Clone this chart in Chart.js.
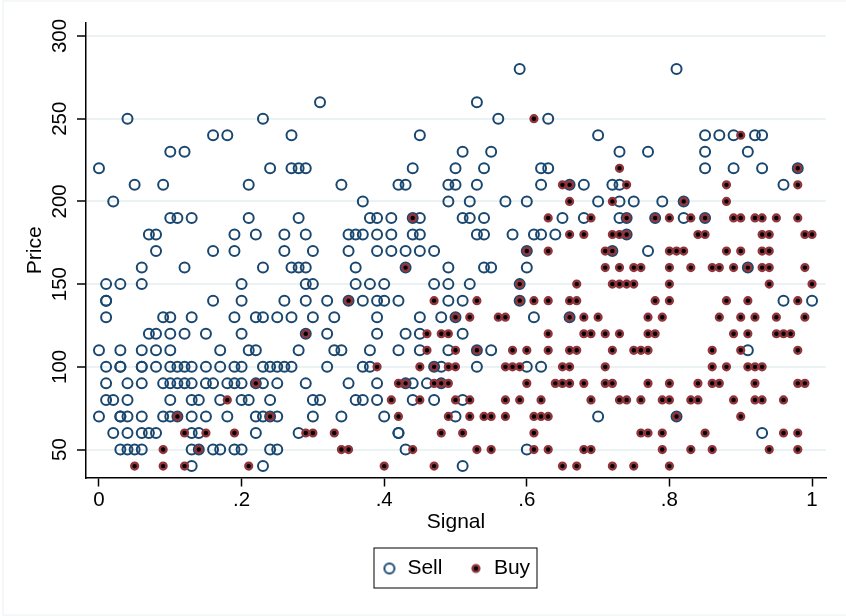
<!DOCTYPE html>
<html>
<head>
<meta charset="utf-8">
<script src="https://cdn.jsdelivr.net/npm/chart.js@4/dist/chart.umd.js"></script>
<style>
  html, body { margin: 0; padding: 0; background: #fff; }
  #wrap { width: 846px; height: 616px; }
</style>
</head>
<body>
<div id="wrap"><canvas id="chart" width="846" height="616"></canvas></div>
<script>
// price levels, each one a row of signal values (in hundredths)
const prices = [280, 260, 250, 240, 230, 220, 210, 200, 190, 180, 170, 160, 150, 140, 130, 120, 110, 100, 90, 80, 70, 60, 50, 40];

const sellSignals = [
  [59, 81],
  [31, 53],
  [4, 23, 56, 63],
  [16, 18, 27, 45, 70, 85, 87, 89, 92, 93],
  [10, 12, 51, 55, 73, 77, 85, 91],
  [0, 24, 27, 28, 29, 44, 50, 54, 62, 63, 85, 89, 93, 98],
  [5, 9, 21, 34, 42, 43, 49, 50, 53, 62, 66, 68, 72, 73, 96],
  [2, 37, 49, 52, 57, 60, 70, 73, 75, 79, 82],
  [10, 11, 13, 21, 28, 38, 39, 41, 44, 45, 51, 52, 54, 65, 68, 73, 74, 78, 82, 85],
  [7, 8, 19, 22, 26, 29, 35, 36, 37, 39, 41, 44, 45, 53, 54, 58, 61, 62, 64, 74],
  [8, 16, 19, 26, 30, 35, 39, 41, 43, 45, 47, 60, 72, 77],
  [6, 12, 23, 27, 28, 29, 36, 43, 49, 54, 55, 60, 91],
  [1, 3, 6, 20, 29, 30, 36, 38, 40, 47, 49, 52, 59],
  [1, 1, 16, 20, 26, 29, 32, 35, 37, 39, 40, 42, 49, 51, 59, 96, 100],
  [1, 9, 10, 13, 19, 22, 23, 25, 27, 30, 33, 39, 45, 48, 50, 61, 66],
  [7, 8, 10, 12, 15, 20, 29, 32, 39, 43, 45, 51],
  [0, 3, 6, 8, 10, 17, 21, 22, 28, 33, 34, 38, 42, 45, 49, 53, 55, 91],
  [1, 3, 3, 6, 6, 8, 10, 11, 12, 13, 15, 17, 19, 20, 23, 24, 25, 26, 27, 32, 37, 38, 47, 48, 53, 60, 62],
  [1, 4, 6, 9, 10, 11, 12, 13, 15, 16, 18, 19, 20, 22, 23, 25, 29, 35, 39, 43, 44, 46, 48],
  [1, 2, 4, 10, 13, 14, 17, 20, 21, 24, 30, 31, 36, 37, 39, 44, 47, 51],
  [0, 3, 3, 4, 6, 9, 10, 11, 13, 15, 18, 22, 23, 24, 25, 30, 34, 40, 50, 70, 81],
  [2, 4, 6, 7, 8, 13, 14, 22, 28, 42, 42, 93],
  [3, 4, 5, 6, 13, 14, 16, 17, 19, 20, 24, 25, 43, 60],
  [13, 23, 51]
];

const buySignals = [
  [],
  [],
  [61],
  [90],
  [],
  [73, 98],
  [65, 66, 74, 88, 98],
  [66, 72, 82, 88],
  [44, 63, 69, 74, 78, 80, 83, 85, 89, 90, 92, 93, 95, 98],
  [66, 68, 72, 73, 74, 84, 85, 93, 94, 99, 100],
  [60, 63, 71, 72, 80, 81, 82, 88, 90, 93, 94],
  [43, 71, 73, 75, 76, 80, 83, 86, 87, 89, 91, 93, 94, 99],
  [59, 67, 72, 73, 74, 75, 80, 94, 100],
  [35, 47, 53, 59, 61, 63, 66, 67, 78, 80, 88, 91, 98],
  [50, 52, 56, 57, 66, 68, 70, 77, 79, 87, 90, 92, 95, 99],
  [29, 46, 48, 49, 63, 68, 69, 71, 73, 77, 78, 89, 91, 95, 96, 97],
  [46, 50, 53, 58, 60, 63, 66, 67, 72, 75, 76, 77, 86, 90, 98],
  [39, 45, 47, 49, 50, 57, 58, 59, 65, 66, 71, 86, 88, 91, 92, 93],
  [22, 42, 43, 47, 48, 49, 60, 64, 65, 66, 68, 71, 72, 77, 80, 84, 86, 87, 92, 98, 99],
  [18, 41, 45, 50, 52, 57, 59, 62, 69, 73, 74, 76, 79, 80, 83, 84, 89, 92, 93, 96],
  [11, 24, 42, 49, 52, 54, 55, 57, 61, 62, 63, 81, 90],
  [12, 15, 19, 29, 30, 33, 48, 51, 61, 76, 77, 79, 85, 96, 98],
  [9, 14, 34, 35, 44, 53, 55, 61, 63, 68, 69, 79, 83, 86, 94, 98],
  [5, 9, 12, 21, 40, 47, 65, 67, 72, 75, 80]
];

const xTicks = [0, 0.2, 0.4, 0.6, 0.8, 1];
const yTicks = [50, 100, 150, 200, 250, 300];

const NAVY = '#1a476f';
const MAROON = '#90353b';
const PALE = '#eaf2f3';
const FONT = "'Liberation Sans', Arial, sans-serif";

function toPoints(rows) {
  const pts = [];
  rows.forEach((row, i) => row.forEach(s => pts.push({ x: s / 100, y: prices[i] })));
  return pts;
}

// Stata style labels: 0 .2 .4 ... 1
function signalLabel(v) {
  if (v === 0 || v === 1) return String(v);
  return String(Math.round(v * 10) / 10).replace(/^0/, '');
}

// legend symbols keep the same size as the plotted points
function marker(r, width, stroke, fill) {
  const c = document.createElement('canvas');
  c.width = c.height = 16;
  const g = c.getContext('2d');
  g.arc(8, 8, r, 0, Math.PI * 2);
  g.fillStyle = fill;
  g.fill();
  g.lineWidth = width;
  g.strokeStyle = stroke;
  g.stroke();
  return c;
}
const legendMarkers = { Sell: marker(5, 2, NAVY, 'rgba(0,0,0,0)'), Buy: marker(3.4, 2.4, MAROON, '#000') };

// faint outer frame, and the frame round the legend
const frames = {
  id: 'frames',
  beforeDraw(chart) {
    const c = chart.ctx;
    c.save();
    c.strokeStyle = PALE;
    c.lineWidth = 1;
    c.strokeRect(3, 1, 860, 614);
    c.restore();
  },
  afterDraw(chart) {
    const c = chart.ctx;
    const w = 163;
    const left = (chart.chartArea.left + chart.chartArea.right) / 2 - w / 2 - 0.5;
    c.save();
    c.strokeStyle = '#000';
    c.lineWidth = 1;
    c.strokeRect(left, chart.legend.top + 16, w, 40);
    c.restore();
  }
};

Chart.defaults.font.family = FONT;
Chart.defaults.color = '#000';

new Chart(document.getElementById('chart'), {
  type: 'scatter',
  plugins: [frames],
  data: {
    datasets: [
      {
        label: 'Sell',
        data: toPoints(sellSignals),
        order: 1,
        pointStyle: 'circle',
        pointRadius: 5,
        pointHoverRadius: 5,
        pointBorderWidth: 2,
        pointBorderColor: NAVY,
        pointBackgroundColor: 'rgba(0,0,0,0)'
      },
      {
        label: 'Buy',
        data: toPoints(buySignals),
        order: 0,
        pointStyle: 'circle',
        pointRadius: 3.4,
        pointHoverRadius: 3.4,
        pointBorderWidth: 2.4,
        pointBorderColor: MAROON,
        pointBackgroundColor: '#000'
      }
    ]
  },
  options: {
    responsive: false,
    animation: false,
    layout: { padding: { left: 23, right: 20, top: 23, bottom: 27 } },
    plugins: {
      tooltip: { enabled: false },
      legend: {
        position: 'bottom',
        fullSize: false,
        labels: {
          usePointStyle: true,
          pointStyleWidth: 15,
          boxHeight: 15,
          padding: 26,
          font: { size: 21 },
          color: '#000',
          sort: (a, b) => a.datasetIndex - b.datasetIndex,
          generateLabels(chart) {
            const items = Chart.defaults.plugins.legend.labels.generateLabels(chart);
            items.forEach(it => { it.pointStyle = legendMarkers[it.text]; });
            return items;
          }
        }
      }
    },
    scales: {
      x: {
        type: 'linear',
        min: -0.0182,
        max: 1.0196,
        afterBuildTicks: s => { s.ticks = xTicks.map(v => ({ value: v })); },
        afterFit: s => { s.height = 54.5; },
        grid: { drawOnChartArea: false, drawTicks: true, tickLength: 9, tickColor: '#000', tickWidth: 1.5 },
        border: { color: '#000', width: 1.5 },
        ticks: { font: { size: 20.5 }, color: '#000', padding: 2, maxRotation: 0, callback: signalLabel },
        title: { display: true, text: 'Signal', font: { size: 21 }, color: '#000', padding: { top: 0, bottom: -3 } }
      },
      y: {
        type: 'linear',
        min: 33.1,
        max: 307.85,
        afterBuildTicks: s => { s.ticks = yTicks.map(v => ({ value: v })); },
        afterFit: s => { s.width = 63; },
        grid: { color: PALE, lineWidth: 2, drawTicks: true, tickLength: 9, tickColor: '#000', tickWidth: 1.5 },
        border: { color: '#000', width: 1.5 },
        ticks: { font: { size: 20.5 }, color: '#000', padding: 0, minRotation: 90, maxRotation: 90, crossAlign: 'center' },
        title: { display: true, text: 'Price', font: { size: 21 }, color: '#000', padding: { top: 0, bottom: 0 } }
      }
    }
  }
});
</script>
</body>
</html>
